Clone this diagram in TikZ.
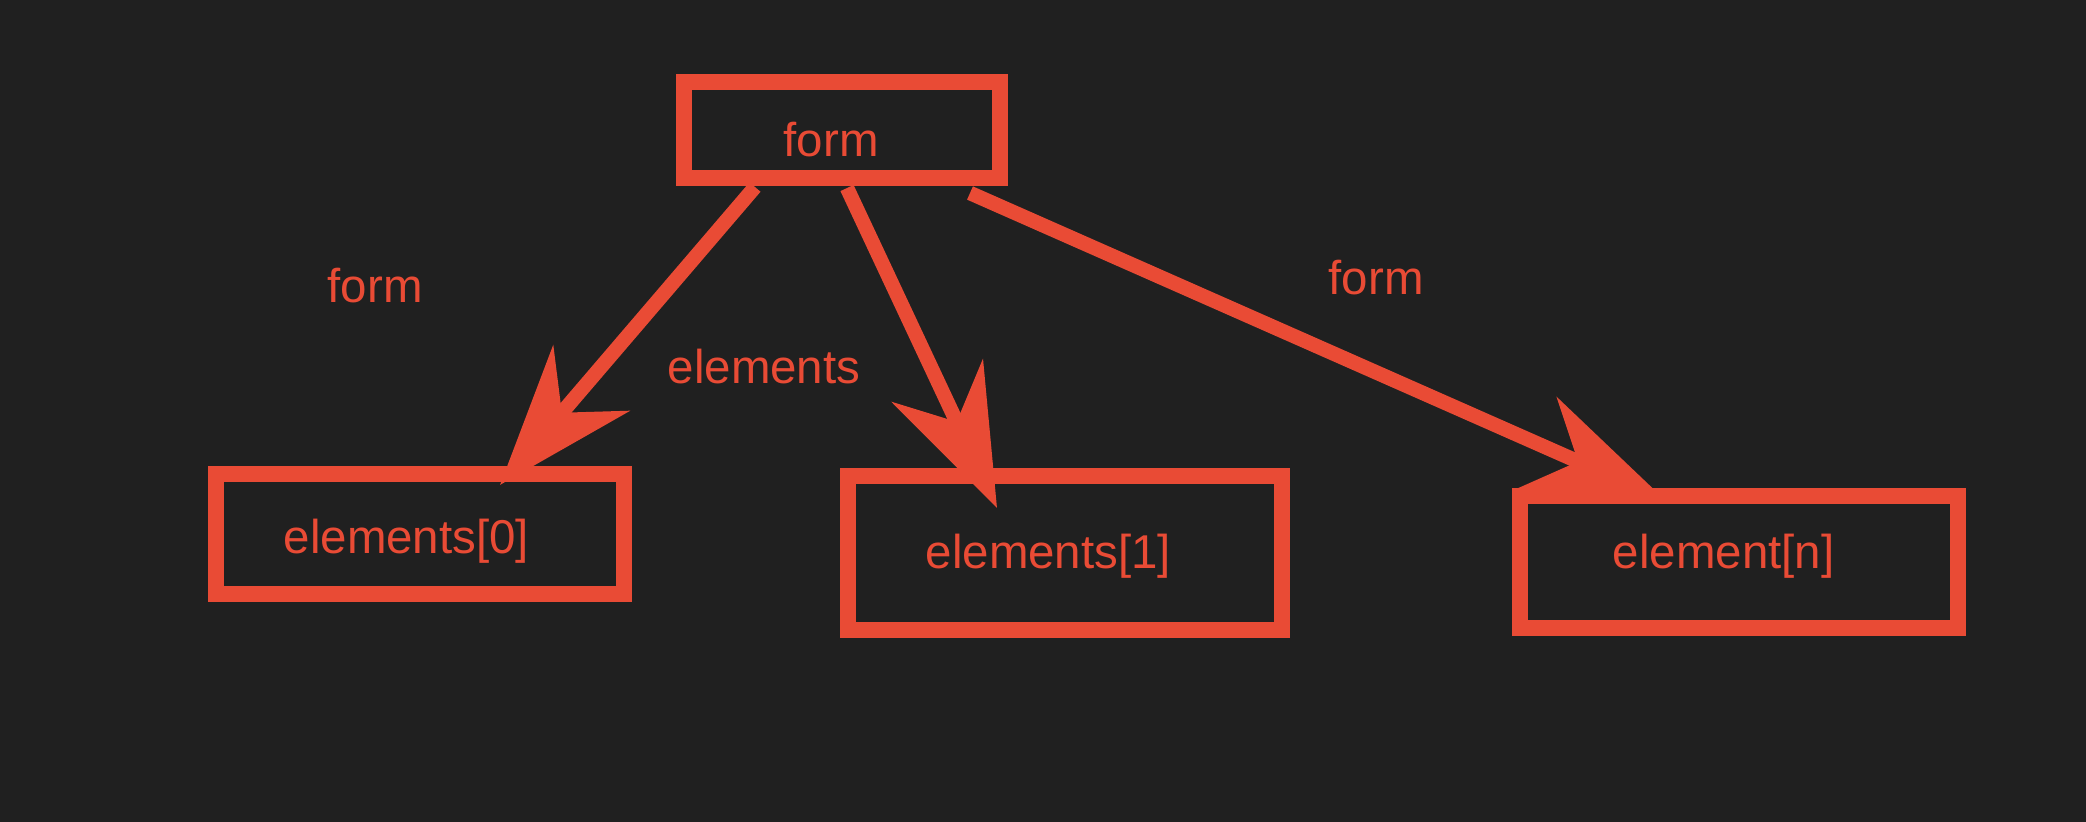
\documentclass[tikz,border=0pt]{standalone}
\usepackage{fontspec}
\setmainfont{Liberation Sans}
\usetikzlibrary{arrows.meta,positioning}
\definecolor{boardred}{HTML}{E94B35}
\definecolor{board}{HTML}{202020}

\begin{document}
\begin{tikzpicture}[x=0.01cm, y=-0.01cm,
  box/.style={draw=boardred, line width=1.6mm, inner sep=0pt},
  lbl/.style={text=boardred, font=\fontsize{13.5}{16}\selectfont, anchor=base west, inner sep=0pt},
  link/.style={draw=boardred, line width=1.45mm, -{Stealth[length=14mm,width=10mm,inset=4.5mm]}}]
\fill[board] (0,0) rectangle (2086,822);
\useasboundingbox (0,0) rectangle (2086,822);

% boxes
\node[box, minimum width=3.16cm, minimum height=0.96cm] (form) at (842,130) {};
\node[box, minimum width=4.08cm, minimum height=1.2cm] (e0) at (420,534) {};
\node[box, minimum width=4.34cm, minimum height=1.54cm] (e1) at (1065,553) {};
\node[box, minimum width=4.38cm, minimum height=1.32cm] (en) at (1739,562) {};

% texts
\node[lbl] (formtext) at (783,157) {form};
\node[lbl] (e0text) at (283,554) {elements[0]};
\node[lbl] (e1text) at (925,568) {elements[1]};
\node[lbl] (entext) at (1612,568) {element[n]};
\node[lbl] (formleft) at (327,303) {form};
\node[lbl] (elemlabel) at (667,384) {elements};
\node[lbl] (formright) at (1328,295) {form};

% arrows
\draw[link] ([shift={(-87,1)}]form.south) -- ([shift={(80,19)}]e0.north);
\draw[link] ([shift={(5,2)}]form.south) -- ([shift={(-68,40)}]e1.north);
\draw[link] ([shift={(128,7)}]form.south) -- ([shift={(-74,12)}]en.north);
\end{tikzpicture}
\end{document}
